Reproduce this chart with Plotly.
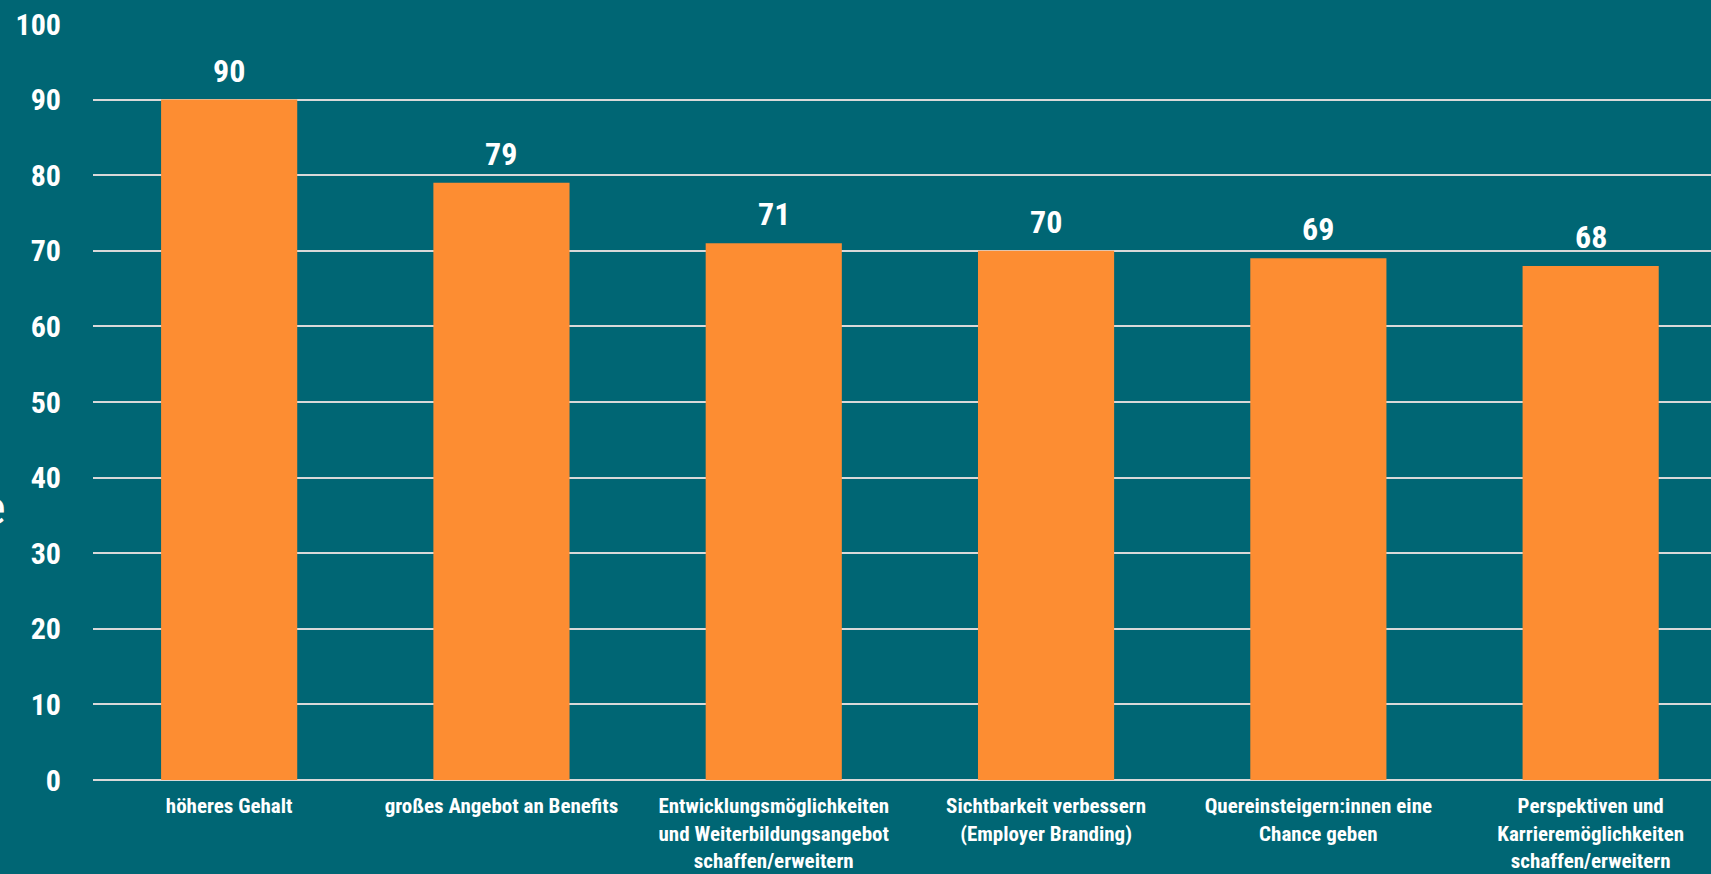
import plotly.graph_objects as go

categories = [
    "höheres Gehalt",
    "großes Angebot an Benefits",
    "Entwicklungsmöglichkeiten<br>und Weiterbildungsangebot<br>schaffen/erweitern",
    "Sichtbarkeit verbessern<br>(Employer Branding)",
    "Quereinsteigern:innen eine<br>Chance geben",
    "Perspektiven und<br>Karrieremöglichkeiten<br>schaffen/erweitern",
]
values = [90, 79, 71, 70, 69, 68]
y_ticks = [0, 10, 20, 30, 40, 50, 60, 70, 80, 90, 100]

BG = "#006674"
BAR = "#FD8D32"
GRID = "#D9D9D9"
FONT = "Roboto Condensed, Liberation Sans, Arial, sans-serif"

W, H = 1711, 874
ML, MR, MT, MB = 93, 0, 24, 94
plot_w = W - ML - MR
cat_px = 272.3
n_vis = plot_w / cat_px

fig = go.Figure()
fig.add_trace(go.Bar(
    x=list(range(len(categories))),
    y=values,
    marker=dict(color=BAR, line=dict(width=0)),
    hoverinfo="skip",
))

for i, v in enumerate(values):
    fig.add_annotation(
        x=i, y=v, xref="x", yref="y", text=f"<b>{v}</b>",
        showarrow=False, yanchor="bottom", yshift=8,
        font=dict(family=FONT, size=32, color="white"),
    )

fig.add_annotation(
    x=(8 - ML) / plot_w, y=0.36, xref="paper", yref="paper",
    text="e", showarrow=False, xanchor="right", yanchor="middle",
    font=dict(family=FONT, size=46, color="white"),
)

fig.update_layout(
    width=W, height=H,
    margin=dict(l=ML, r=MR, t=MT, b=MB, pad=0, autoexpand=False),
    paper_bgcolor=BG, plot_bgcolor=BG,
    bargap=0.5,
    showlegend=False,
    font=dict(family=FONT, color="white"),
    xaxis=dict(
        tickmode="array",
        tickvals=list(range(len(categories))),
        ticktext=[f"<b>{c}</b>" for c in categories],
        range=[-0.5, -0.5 + n_vis],
        automargin=False,
        showgrid=False, zeroline=False, showline=False,
        ticks="outside", ticklen=7, tickcolor="rgba(0,0,0,0)",
        tickfont=dict(family=FONT, size=21, color="white"),
        tickangle=0,
    ),
    yaxis=dict(
        range=[0, 100],
        automargin=False,
        tickmode="array", tickvals=y_ticks,
        ticktext=[f"<b>{t}</b>" for t in y_ticks],
        showgrid=True, gridcolor=GRID, gridwidth=2,
        zeroline=True, zerolinecolor=GRID, zerolinewidth=2,
        showline=False,
        ticks="outside", ticklen=25, tickcolor="rgba(0,0,0,0)",
        tickfont=dict(family=FONT, size=30, color="white"),
    ),
)

fig.write_html("out.html", config={"displayModeBar": False},
               post_script="document.body.style.margin='0px';")
